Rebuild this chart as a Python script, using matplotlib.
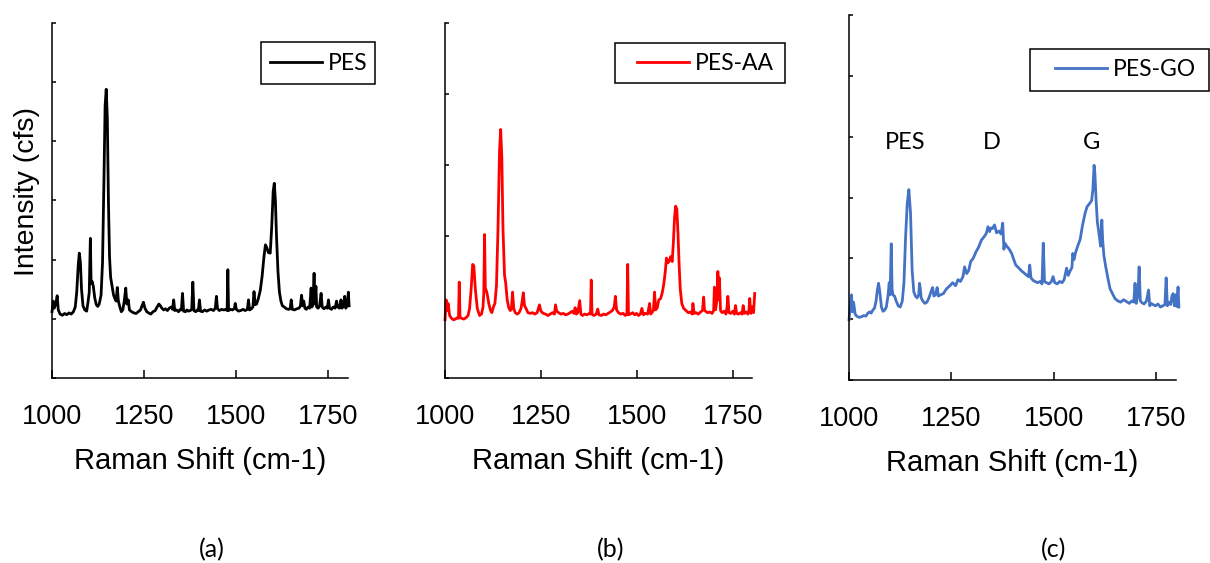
import numpy as np
import matplotlib.pyplot as plt
from matplotlib.patches import Rectangle

# Raman spectra (intensity in tick units)
pes_x = [1000, 1003, 1006, 1010, 1014, 1017, 1022, 1028, 1034, 1040, 1046, 1052, 1058, 1063, 1067,
         1071, 1074, 1077, 1080, 1084, 1089, 1094, 1098, 1101, 1104, 1106, 1109, 1112, 1116, 1120,
         1124, 1128, 1133, 1137, 1141, 1144, 1147, 1150, 1153, 1156, 1159, 1163, 1167, 1170, 1174,
         1177, 1180, 1184, 1188, 1192, 1196, 1200, 1203, 1207, 1210, 1216, 1222, 1228, 1234, 1240,
         1244, 1248, 1252, 1257, 1262, 1268, 1274, 1280, 1285, 1290, 1294, 1298, 1303, 1308, 1313,
         1318, 1323, 1327, 1330, 1333, 1338, 1343, 1348, 1351, 1354, 1357, 1362, 1366, 1370, 1375,
         1379, 1382, 1385, 1390, 1394, 1397, 1400, 1403, 1408, 1414, 1420, 1426, 1432, 1438, 1443,
         1446, 1449, 1454, 1460, 1466, 1471, 1475, 1477, 1479, 1484, 1490, 1495, 1497, 1500, 1506,
         1512, 1518, 1524, 1530, 1533, 1536, 1541, 1545, 1548, 1551, 1555, 1560, 1565, 1570, 1575,
         1579, 1583, 1587, 1592, 1596, 1600, 1603, 1606, 1609, 1613, 1617, 1621, 1625, 1630, 1636,
         1642, 1646, 1649, 1652, 1658, 1664, 1670, 1674, 1677, 1680, 1683, 1686, 1690, 1695, 1699,
         1703, 1705, 1708, 1711, 1713, 1716, 1718, 1722, 1726, 1730, 1733, 1738, 1743, 1747, 1750,
         1753, 1758, 1763, 1768, 1772, 1775, 1780, 1784, 1787, 1791, 1794, 1797, 1801, 1804, 1806]
pes_y = [1.12, 1.30, 1.18, 1.25, 1.39, 1.15, 1.08, 1.06, 1.09, 1.07, 1.10, 1.08, 1.12, 1.20, 1.45,
         1.90, 2.11, 1.95, 1.50, 1.22, 1.15, 1.13, 1.30, 1.45, 2.36, 1.60, 1.63, 1.55, 1.35, 1.24,
         1.21, 1.25, 1.40, 1.95, 3.40, 4.60, 4.88, 4.40, 3.00, 2.05, 1.70, 1.55, 1.40, 1.35, 1.30,
         1.53, 1.30, 1.20, 1.12, 1.15, 1.30, 1.52, 1.25, 1.32, 1.15, 1.12, 1.10, 1.09, 1.12, 1.15,
         1.22, 1.28, 1.18, 1.12, 1.10, 1.08, 1.12, 1.14, 1.20, 1.25, 1.22, 1.18, 1.15, 1.17, 1.14,
         1.18, 1.20, 1.16, 1.32, 1.14, 1.15, 1.12, 1.16, 1.15, 1.43, 1.13, 1.12, 1.15, 1.13, 1.14,
         1.16, 1.62, 1.14, 1.12, 1.15, 1.14, 1.32, 1.13, 1.12, 1.15, 1.13, 1.15, 1.16, 1.14, 1.18,
         1.38, 1.17, 1.14, 1.16, 1.15, 1.16, 1.14, 1.83, 1.14, 1.16, 1.15, 1.18, 1.26, 1.16, 1.13,
         1.14, 1.16, 1.14, 1.16, 1.32, 1.15, 1.17, 1.20, 1.46, 1.24, 1.25, 1.35, 1.48, 1.72, 2.05,
         2.25, 2.20, 2.12, 2.11, 2.55, 3.15, 3.29, 3.00, 2.40, 1.80, 1.45, 1.30, 1.22, 1.20, 1.17,
         1.16, 1.17, 1.32, 1.16, 1.15, 1.17, 1.18, 1.22, 1.40, 1.22, 1.30, 1.18, 1.16, 1.20, 1.18,
         1.52, 1.20, 1.25, 1.77, 1.25, 1.55, 1.20, 1.18, 1.22, 1.43, 1.20, 1.17, 1.20, 1.18, 1.32,
         1.18, 1.16, 1.20, 1.18, 1.30, 1.20, 1.18, 1.32, 1.18, 1.22, 1.38, 1.18, 1.24, 1.45, 1.22]

aa_x = [1000, 1003, 1005, 1008, 1012, 1017, 1022, 1027, 1032, 1035, 1037, 1039, 1043, 1049, 1055,
        1060, 1064, 1068, 1072, 1075, 1079, 1084, 1090, 1095, 1099, 1101, 1103, 1105, 1107, 1110,
        1114, 1118, 1122, 1126, 1130, 1134, 1138, 1142, 1145, 1148, 1151, 1155, 1158, 1162, 1166,
        1170, 1173, 1176, 1179, 1183, 1188, 1193, 1198, 1201, 1204, 1207, 1211, 1216, 1222, 1228,
        1234, 1240, 1246, 1250, 1256, 1262, 1268, 1274, 1280, 1285, 1288, 1291, 1296, 1302, 1308,
        1314, 1320, 1326, 1331, 1336, 1339, 1342, 1346, 1351, 1354, 1358, 1364, 1370, 1376, 1379,
        1381, 1383, 1388, 1394, 1398, 1401, 1407, 1413, 1419, 1425, 1431, 1436, 1441, 1444, 1447,
        1452, 1458, 1464, 1470, 1474, 1476, 1478, 1483, 1489, 1494, 1499, 1504, 1509, 1513, 1517,
        1522, 1528, 1533, 1536, 1540, 1543, 1546, 1549, 1553, 1557, 1562, 1566, 1570, 1574, 1577,
        1581, 1585, 1588, 1592, 1595, 1598, 1601, 1604, 1607, 1610, 1613, 1617, 1622, 1628, 1634,
        1640, 1644, 1646, 1649, 1654, 1660, 1666, 1671, 1674, 1676, 1679, 1684, 1690, 1696, 1700,
        1702, 1705, 1709, 1711, 1713, 1715, 1718, 1722, 1727, 1732, 1735, 1737, 1740, 1745, 1750,
        1754, 1757, 1760, 1765, 1770, 1774, 1777, 1780, 1785, 1789, 1792, 1794, 1797, 1801, 1804,
        1807]
aa_y = [0.82, 1.10, 0.95, 1.05, 0.88, 0.84, 0.82, 0.83, 0.85, 0.84, 1.35, 0.86, 0.84, 0.83, 0.85,
        0.88, 0.98, 1.25, 1.60, 1.58, 1.25, 0.98, 0.88, 0.90, 1.00, 1.20, 2.02, 1.24, 1.24, 1.18,
        1.05, 0.96, 0.92, 1.00, 1.05, 1.30, 2.10, 3.20, 3.50, 3.10, 2.10, 1.45, 1.34, 1.10, 0.99,
        0.95, 0.97, 1.21, 0.98, 0.92, 0.90, 0.92, 0.98, 1.08, 1.20, 1.02, 0.98, 0.92, 0.91, 0.92,
        0.90, 0.92, 1.03, 0.94, 0.91, 0.90, 0.88, 0.90, 0.92, 0.90, 1.03, 0.94, 0.92, 0.90, 0.91,
        0.89, 0.90, 0.92, 0.94, 0.91, 0.99, 0.90, 0.92, 1.09, 0.90, 0.88, 0.90, 0.89, 0.91, 0.90,
        1.38, 0.90, 0.88, 0.90, 0.97, 0.89, 0.88, 0.90, 0.89, 0.91, 0.93, 0.95, 1.00, 1.15, 0.96,
        0.92, 0.90, 0.91, 0.88, 0.90, 1.60, 0.89, 0.90, 0.92, 0.89, 0.91, 0.88, 0.90, 0.98, 0.89,
        0.91, 0.90, 1.05, 0.90, 0.93, 0.95, 1.21, 0.96, 0.99, 1.10, 1.12, 1.20, 1.32, 1.50, 1.69,
        1.62, 1.66, 1.71, 1.64, 1.90, 2.25, 2.42, 2.38, 2.05, 1.60, 1.25, 1.05, 0.98, 0.95, 0.92,
        0.93, 0.90, 1.05, 0.91, 0.92, 0.90, 0.93, 0.95, 1.14, 0.96, 0.94, 0.92, 0.93, 0.91, 0.95,
        1.28, 0.96, 1.12, 1.50, 1.10, 1.41, 0.95, 0.92, 0.94, 0.90, 1.00, 1.15, 0.92, 0.91, 0.94,
        0.90, 1.02, 0.91, 0.90, 0.92, 0.90, 1.02, 0.91, 0.93, 0.90, 0.95, 1.12, 0.91, 1.00, 0.92,
        1.19]

go_x = [1000, 1003, 1006, 1008, 1011, 1015, 1019, 1024, 1030, 1036, 1041, 1046, 1050, 1054, 1058,
        1062, 1066, 1069, 1072, 1075, 1079, 1083, 1087, 1091, 1095, 1098, 1100, 1103, 1105, 1107,
        1111, 1115, 1120, 1125, 1130, 1134, 1138, 1142, 1146, 1150, 1154, 1158, 1162, 1166, 1170,
        1172, 1174, 1176, 1180, 1185, 1190, 1195, 1200, 1204, 1207, 1211, 1215, 1218, 1223, 1230,
        1238, 1246, 1253, 1260, 1266, 1272, 1278, 1282, 1287, 1292, 1297, 1303, 1310, 1316, 1323,
        1329, 1335, 1339, 1343, 1346, 1350, 1355, 1360, 1366, 1371, 1375, 1378, 1380, 1385, 1391,
        1397, 1402, 1407, 1413, 1420, 1427, 1434, 1438, 1441, 1444, 1449, 1454, 1460, 1466, 1471,
        1474, 1477, 1482, 1488, 1494, 1498, 1502, 1508, 1514, 1520, 1525, 1531, 1535, 1540, 1544,
        1546, 1549, 1553, 1558, 1564, 1570, 1576, 1581, 1587, 1592, 1595, 1598, 1600, 1603, 1606,
        1610, 1614, 1617, 1619, 1622, 1626, 1631, 1637, 1643, 1649, 1656, 1663, 1670, 1677, 1684,
        1690, 1695, 1698, 1701, 1705, 1708, 1711, 1715, 1720, 1726, 1731, 1734, 1737, 1742, 1748,
        1754, 1760, 1766, 1771, 1774, 1777, 1781, 1785, 1788, 1791, 1794, 1797, 1800, 1803, 1805]
go_y = [0.99, 1.25, 1.40, 1.12, 1.28, 1.08, 1.05, 1.03, 1.04, 1.06, 1.05, 1.10, 1.12, 1.10, 1.15,
        1.18, 1.30, 1.48, 1.59, 1.45, 1.20, 1.13, 1.15, 1.20, 1.38, 1.60, 1.40, 2.24, 1.50, 1.40,
        1.38, 1.30, 1.22, 1.20, 1.30, 1.60, 2.35, 2.90, 3.13, 2.75, 1.80, 1.45, 1.38, 1.35, 1.40,
        1.59, 1.50, 1.35, 1.30, 1.26, 1.28, 1.35, 1.45, 1.52, 1.38, 1.40, 1.52, 1.38, 1.40, 1.42,
        1.50, 1.55, 1.60, 1.55, 1.65, 1.62, 1.70, 1.86, 1.75, 1.80, 1.95, 2.00, 2.11, 2.18, 2.30,
        2.35, 2.41, 2.52, 2.44, 2.50, 2.49, 2.55, 2.42, 2.45, 2.40, 2.58, 2.15, 2.25, 2.20, 2.15,
        2.08, 1.98, 1.89, 1.85, 1.80, 1.76, 1.72, 1.70, 1.89, 1.68, 1.64, 1.62, 1.60, 1.62, 1.58,
        2.25, 1.62, 1.60, 1.58, 1.62, 1.70, 1.60, 1.58, 1.62, 1.60, 1.65, 1.84, 1.72, 1.80, 1.85,
        2.08, 1.98, 2.10, 2.20, 2.31, 2.55, 2.74, 2.85, 2.90, 2.95, 3.12, 3.53, 3.40, 2.95, 2.60,
        2.41, 2.20, 2.63, 2.30, 2.05, 1.88, 1.70, 1.50, 1.42, 1.34, 1.30, 1.28, 1.32, 1.29, 1.26,
        1.30, 1.28, 1.59, 1.26, 1.40, 1.86, 1.30, 1.27, 1.25, 1.30, 1.48, 1.22, 1.26, 1.24, 1.22,
        1.25, 1.20, 1.22, 1.24, 1.68, 1.22, 1.28, 1.24, 1.38, 1.42, 1.22, 1.40, 1.21, 1.53, 1.20]

xticks = [1000, 1250, 1500, 1750]
peak_names = ['PES', 'D', 'G']
peak_pos = [1137, 1349, 1593]

panels = [
    dict(x=pes_x, y=pes_y, label='PES', color='black', ylim=6, xmax=1803,
         rect=[0.043, 0.3286, 0.2446, 0.6306], box=[0.2157, 0.8508, 0.0942, 0.0746],
         anchor=(0.2231, 0.888), tag='(a)', tagx=0.175),
    dict(x=aa_x, y=aa_y, label='PES-AA', color='#FF0000', ylim=5, xmax=1800,
         rect=[0.3678, 0.3286, 0.2537, 0.6306], box=[0.5083, 0.8526, 0.1405, 0.0710],
         anchor=(0.5264, 0.888), tag='(b)', tagx=0.505),
    dict(x=go_x, y=go_y, label='PES-GO', color='#4472C4', ylim=6, xmax=1798,
         rect=[0.7017, 0.325, 0.2702, 0.6483], box=[0.8512, 0.8384, 0.1479, 0.0746],
         anchor=(0.8719, 0.8757), tag='(c)', tagx=0.871),
]

plt.rcParams['font.family'] = ['Liberation Sans', 'DejaVu Sans']
calibri = ['Lato', 'DejaVu Sans']

fig = plt.figure(figsize=(12.1, 5.63), dpi=100)

for i, p in enumerate(panels):
    ax = fig.add_axes(p['rect'])
    ax.plot(p['x'], p['y'], color=p['color'], lw=2.0, label=p['label'], clip_on=False)
    ax.set_xlim(1000, p['xmax'])
    ax.set_ylim(0, p['ylim'])
    ax.set_xticks(xticks)
    ax.set_yticks(np.arange(0, p['ylim'] + 1))
    ax.set_yticklabels([])
    for s in ['top', 'right']:
        ax.spines[s].set_visible(False)
    for s in ['left', 'bottom']:
        ax.spines[s].set_linewidth(1.1)
    ax.tick_params(axis='x', direction='in', length=6, width=1.1, labelsize=19.5, pad=19)
    ax.tick_params(axis='y', direction='in', length=3, width=1.1)
    ax.set_xlabel('Raman Shift (cm-1)', fontsize=21, labelpad=12)
    if i == 0:
        ax.set_ylabel('Intensity (cfs)', fontsize=20.5)
        ax.yaxis.set_label_coords(-0.0405, 0.524)

    # legend: square frame drawn separately, entries placed inside it
    fig.add_artist(Rectangle(p['box'][:2], p['box'][2], p['box'][3], transform=fig.transFigure,
                             fill=False, edgecolor='black', lw=1.1))
    fig.legend(handles=ax.get_lines(), loc='center left', bbox_to_anchor=p['anchor'],
               frameon=False, borderaxespad=0, borderpad=0,
               handlelength=2.27, handletextpad=0.25,
               prop={'family': calibri, 'size': 16.5})

    fig.text(p['tagx'], 1 - 550 / 563, p['tag'], ha='center', va='center',
             fontsize=18, family=calibri)
    if i == 2:
        for name, pos in zip(peak_names, peak_pos):
            ax.text(pos, 3.9, name, ha='center', va='center', fontsize=17, family=calibri)

fig.savefig('out.png', dpi=100)
